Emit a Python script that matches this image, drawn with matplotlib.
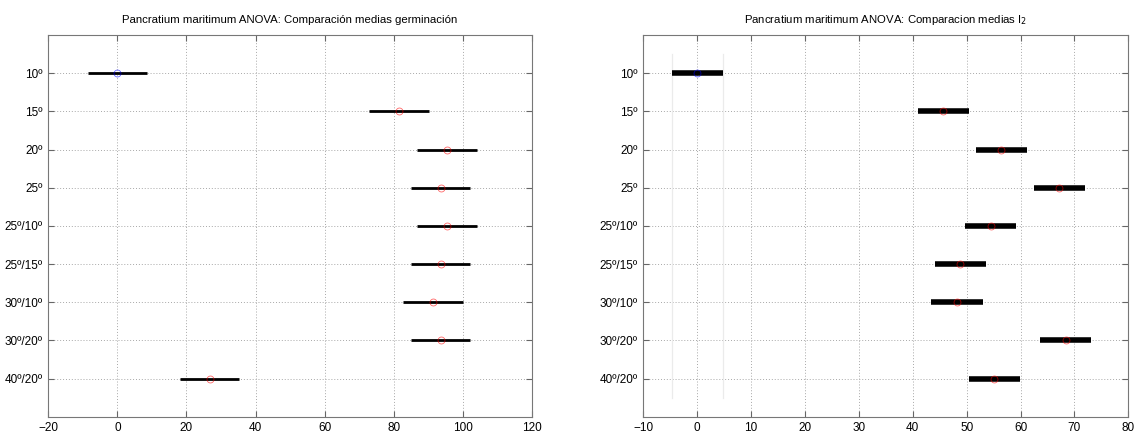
import numpy as np
import matplotlib
matplotlib.use("Agg")
import matplotlib.pyplot as plt

plt.rcParams['font.family'] = ['Liberation Sans', 'DejaVu Sans']

# group labels, top to bottom
groups = ["10º", "15º", "20º", "25º", "25º/10º", "25º/15º", "30º/10º", "30º/20º", "40º/20º"]

# germinacion: means and half width of comparison interval
germ_means = [0.0, 81.6, 95.4, 93.6, 95.4, 93.6, 91.4, 93.6, 26.7]
germ_half = 8.6

# I2: means and half width
i2_means = [0.0, 45.7, 56.4, 67.2, 54.5, 48.8, 48.2, 68.4, 55.1]
i2_half = 4.75

ypos = np.arange(len(groups), 0, -1)

fig = plt.figure(figsize=(11.35, 4.33), dpi=100)
ax1 = fig.add_axes([0.0426, 0.0376, 0.4259, 0.8815])
ax2 = fig.add_axes([0.5668, 0.0376, 0.4273, 0.8815])


def draw(ax, means, half, lw, title, xlim, xticks, show_ref):
    if show_ref:
        # reference lines of the selected group
        for xv in (means[0] - half, means[0] + half):
            ax.plot([xv, xv], [0.5, len(groups) + 0.5], color="#ebebeb", lw=0.9, zorder=1)
    for i, (m, y) in enumerate(zip(means, ypos)):
        ax.plot([m - half, m + half], [y, y], color="black", lw=lw, solid_capstyle="butt", zorder=3)
        col = "blue" if i == 0 else "red"
        ax.plot(m, y, "o", mfc="none", mec=col, ms=5, mew=0.6, alpha=0.6, zorder=4)
    ax.set_xlim(*xlim)
    ax.set_ylim(0, len(groups) + 1)
    ax.set_xticks(xticks)
    ax.set_yticks(ypos)
    ax.set_yticklabels(groups)
    ax.grid(True, linestyle=(0, (1, 2)), color="#a8a8a8", lw=0.7)
    ax.set_axisbelow(True)
    ax.tick_params(direction="in", top=True, right=True, labelsize=8.5, length=4,
                   color="#666666", pad=4)
    for s in ax.spines.values():
        s.set_color("#777777")
    ax.set_title(title, fontsize=8.2, pad=9)


draw(ax1, germ_means, germ_half, 2.0,
     "Pancratium maritimum ANOVA: Comparación medias germinación",
     (-20, 120), np.arange(-20, 121, 20), False)
draw(ax2, i2_means, i2_half, 4.0,
     "Pancratium maritimum ANOVA: Comparacion medias I$_2$",
     (-10, 80), np.arange(-10, 81, 10), True)

fig.savefig("out.png", dpi=100)
